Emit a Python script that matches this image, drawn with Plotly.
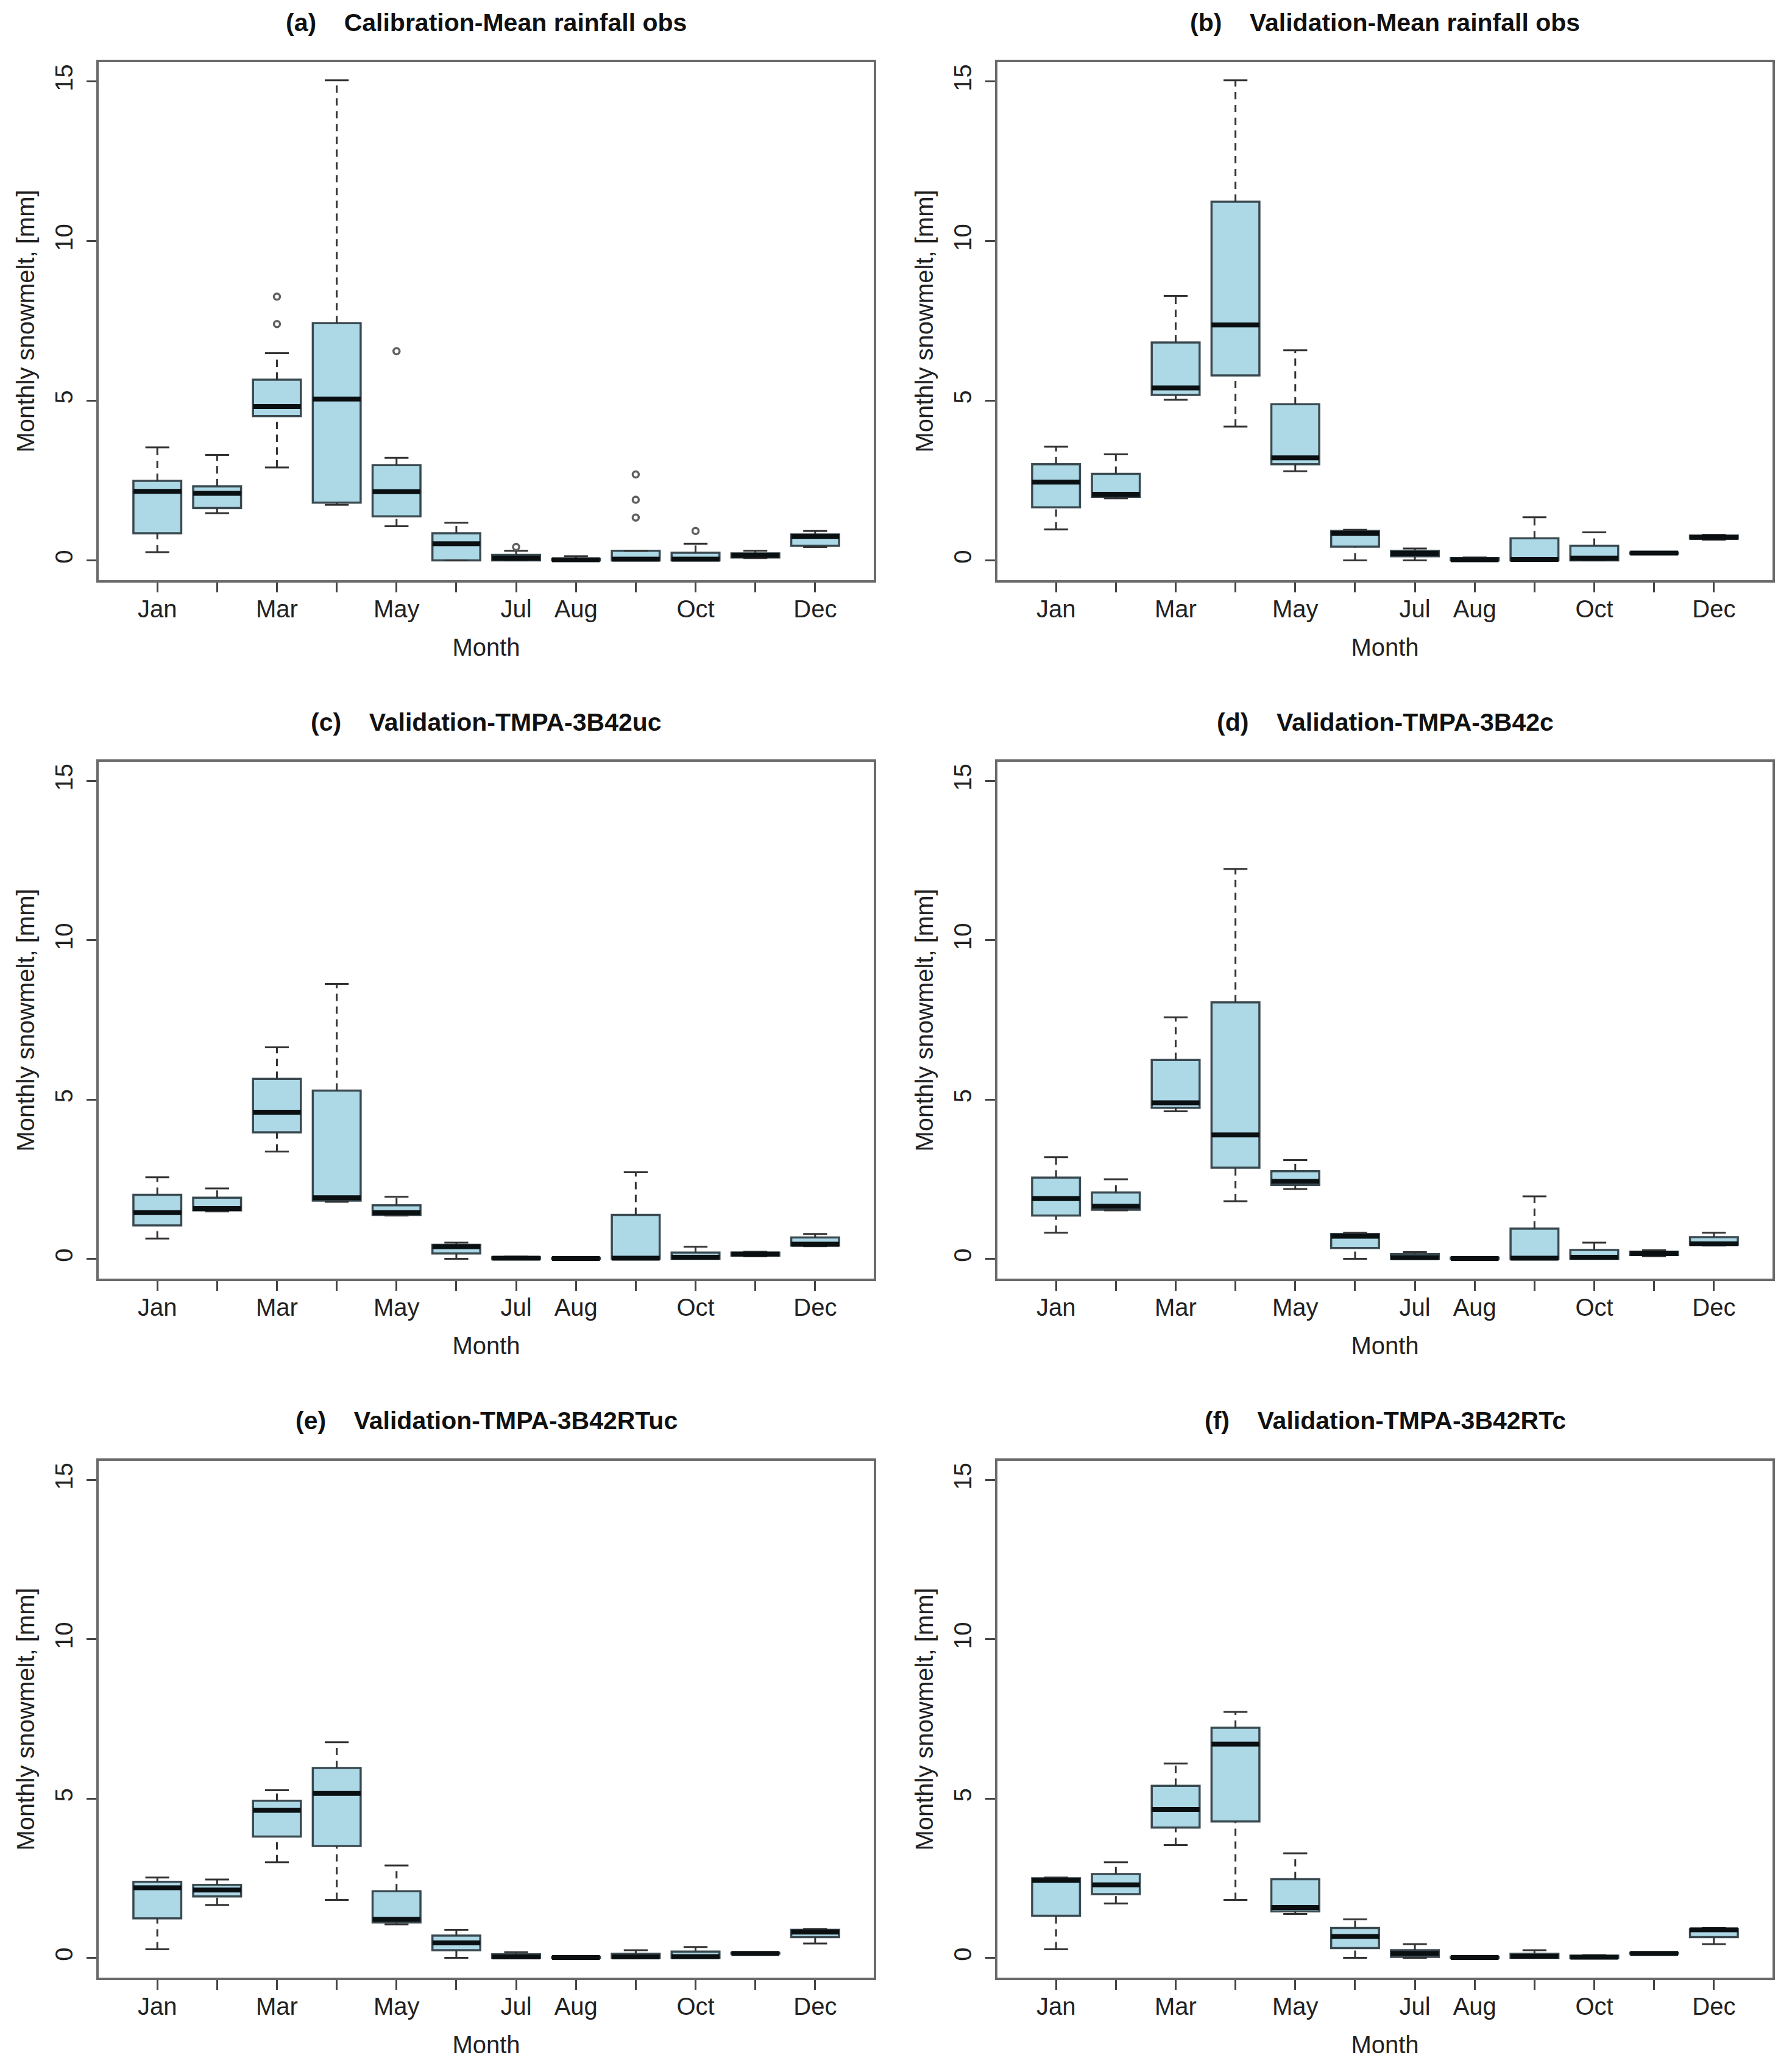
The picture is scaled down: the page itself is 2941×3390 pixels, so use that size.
import plotly.graph_objects as go

# month positions and labels (R hides labels that would overlap)
months = list(range(1, 13))
month_labels = ["Jan", "", "Mar", "", "May", "", "Jul", "Aug", "", "Oct", "", "Dec"]

titles = [
    "(a)    Calibration-Mean rainfall obs",
    "(b)    Validation-Mean rainfall obs",
    "(c)    Validation-TMPA-3B42uc",
    "(d)    Validation-TMPA-3B42c",
    "(e)    Validation-TMPA-3B42RTuc",
    "(f)    Validation-TMPA-3B42RTc",
]

# box statistics, one value per month
a_low = [0.26, 1.48, 2.91, 1.74, 1.07, 0.00, 0.00, 0.00, 0.00, 0.00, 0.07, 0.42]
a_q1  = [0.85, 1.64, 4.52, 1.81, 1.38, 0.00, 0.00, 0.00, 0.00, 0.00, 0.09, 0.46]
a_med = [2.16, 2.10, 4.82, 5.05, 2.15, 0.52, 0.07, 0.02, 0.04, 0.04, 0.16, 0.75]
a_q3  = [2.49, 2.32, 5.66, 7.43, 2.98, 0.85, 0.17, 0.05, 0.30, 0.24, 0.22, 0.81]
a_up  = [3.54, 3.30, 6.49, 15.03, 3.21, 1.18, 0.30, 0.13, 0.30, 0.52, 0.30, 0.92]
a_out_x = [3, 3, 5, 7, 9, 9, 9, 10]
a_out_y = [8.26, 7.40, 6.55, 0.42, 2.69, 1.90, 1.34, 0.92]

b_low = [0.97, 1.94, 5.03, 4.19, 2.79, 0.00, 0.00, 0.00, 0.00, 0.00, 0.20, 0.65]
b_q1  = [1.66, 1.99, 5.18, 5.79, 3.01, 0.43, 0.13, 0.00, 0.00, 0.00, 0.21, 0.68]
b_med = [2.45, 2.07, 5.40, 7.37, 3.21, 0.85, 0.22, 0.02, 0.03, 0.07, 0.23, 0.72]
b_q3  = [3.01, 2.71, 6.82, 11.23, 4.89, 0.92, 0.30, 0.07, 0.69, 0.46, 0.25, 0.78]
b_up  = [3.56, 3.32, 8.28, 15.03, 6.58, 0.96, 0.37, 0.09, 1.35, 0.88, 0.26, 0.80]

c_low = [0.64, 1.49, 3.37, 1.79, 1.36, 0.00, 0.00, 0.00, 0.00, 0.00, 0.08, 0.40]
c_q1  = [1.05, 1.52, 3.97, 1.83, 1.38, 0.17, 0.00, 0.00, 0.00, 0.00, 0.10, 0.42]
c_med = [1.45, 1.58, 4.60, 1.92, 1.45, 0.38, 0.02, 0.01, 0.02, 0.05, 0.15, 0.46]
c_q3  = [2.01, 1.92, 5.65, 5.28, 1.68, 0.44, 0.05, 0.03, 1.38, 0.20, 0.20, 0.67]
c_up  = [2.56, 2.21, 6.64, 8.63, 1.95, 0.51, 0.07, 0.04, 2.72, 0.38, 0.22, 0.78]

d_low = [0.82, 1.52, 4.63, 1.81, 2.19, 0.00, 0.00, 0.00, 0.00, 0.00, 0.08, 0.42]
d_q1  = [1.36, 1.54, 4.74, 2.86, 2.32, 0.34, 0.00, 0.00, 0.00, 0.00, 0.12, 0.44]
d_med = [1.89, 1.65, 4.90, 3.89, 2.43, 0.71, 0.04, 0.01, 0.02, 0.05, 0.17, 0.47]
d_q3  = [2.55, 2.08, 6.24, 8.05, 2.75, 0.78, 0.15, 0.04, 0.95, 0.28, 0.22, 0.68]
d_up  = [3.19, 2.50, 7.58, 12.24, 3.10, 0.82, 0.21, 0.06, 1.96, 0.51, 0.27, 0.82]

e_low = [0.27, 1.66, 3.00, 1.82, 1.05, 0.00, 0.00, 0.00, 0.00, 0.00, 0.12, 0.45]
e_q1  = [1.24, 1.93, 3.81, 3.51, 1.11, 0.24, 0.00, 0.00, 0.00, 0.00, 0.13, 0.65]
e_med = [2.20, 2.13, 4.63, 5.16, 1.21, 0.47, 0.03, 0.01, 0.03, 0.04, 0.14, 0.81]
e_q3  = [2.39, 2.29, 4.93, 5.96, 2.09, 0.70, 0.11, 0.03, 0.13, 0.20, 0.16, 0.88]
e_up  = [2.52, 2.46, 5.26, 6.77, 2.90, 0.88, 0.18, 0.05, 0.24, 0.34, 0.17, 0.90]

f_low = [0.27, 1.71, 3.54, 1.82, 1.38, 0.00, 0.00, 0.00, 0.00, 0.00, 0.12, 0.43]
f_q1  = [1.32, 2.00, 4.09, 4.28, 1.46, 0.31, 0.03, 0.00, 0.00, 0.00, 0.13, 0.65]
f_med = [2.43, 2.29, 4.66, 6.71, 1.58, 0.67, 0.14, 0.01, 0.05, 0.02, 0.14, 0.88]
f_q3  = [2.50, 2.63, 5.40, 7.22, 2.47, 0.94, 0.24, 0.03, 0.13, 0.07, 0.16, 0.90]
f_up  = [2.52, 3.00, 6.10, 7.72, 3.28, 1.21, 0.43, 0.05, 0.24, 0.09, 0.17, 0.94]

panels = [
    (a_low, a_q1, a_med, a_q3, a_up, a_out_x, a_out_y),
    (b_low, b_q1, b_med, b_q3, b_up, [], []),
    (c_low, c_q1, c_med, c_q3, c_up, [], []),
    (d_low, d_q1, d_med, d_q3, d_up, [], []),
    (e_low, e_q1, e_med, e_q3, e_up, [], []),
    (f_low, f_q1, f_med, f_q3, f_up, [], []),
]

# page is offset by the 8px default body margin
PAD = 8
W, H = 2941 - 2 * PAD, 3390 - 2 * PAD
# plot box edges in page pixels (left, right) and (top, bottom)
cols_px = [(162, 1434), (1637, 2909)]
rows_px = [(102, 952), (1250, 2098), (2397, 3245)]
title_px = [37, 1185, 2331]

FONT = "Liberation Sans, Arial, Helvetica, sans-serif"
BOX_W = 0.8
CAP_W = 0.4


def segs(xs, y0, y1, half):
    # horizontal (half > 0) or vertical segments with None breaks
    sx, sy = [], []
    for x, a, b in zip(xs, y0, y1):
        if half:
            sx += [x - half, x + half, None]
        else:
            sx += [x, x, None]
        sy += [a, b, None]
    return sx, sy


fig = go.Figure()

for i, (low, q1, med, q3, up, ox, oy) in enumerate(panels):
    r, c = divmod(i, 2)
    xa = "x" if i == 0 else f"x{i + 1}"
    ya = "y" if i == 0 else f"y{i + 1}"

    # dashed whiskers
    wx1, wy1 = segs(months, q3, up, 0)
    wx2, wy2 = segs(months, low, q1, 0)
    fig.add_trace(go.Scatter(x=wx1 + wx2, y=wy1 + wy2, mode="lines", xaxis=xa, yaxis=ya,
                             line=dict(color="#333333", width=3, dash="12px,9px"),
                             hoverinfo="skip", showlegend=False))
    # whisker caps
    cx1, cy1 = segs(months, up, up, CAP_W / 2)
    cx2, cy2 = segs(months, low, low, CAP_W / 2)
    fig.add_trace(go.Scatter(x=cx1 + cx2, y=cy1 + cy2, mode="lines", xaxis=xa, yaxis=ya,
                             line=dict(color="#333333", width=3),
                             hoverinfo="skip", showlegend=False))
    # boxes
    fig.add_trace(go.Box(x=months, q1=q1, median=med, q3=q3, lowerfence=q1, upperfence=q3,
                         width=BOX_W, fillcolor="#ADD8E6", xaxis=xa, yaxis=ya,
                         line=dict(color="#3a4a50", width=3.5), showlegend=False))
    # thick medians
    mx, my = segs(months, med, med, BOX_W / 2)
    fig.add_trace(go.Scatter(x=mx, y=my, mode="lines", xaxis=xa, yaxis=ya,
                             line=dict(color="#0a0f12", width=8),
                             hoverinfo="skip", showlegend=False))
    # outliers
    if ox:
        fig.add_trace(go.Scatter(x=ox, y=oy, mode="markers", xaxis=xa, yaxis=ya,
                                 marker=dict(symbol="circle-open", size=10, color="#606060",
                                             line=dict(width=3.5)),
                                 hoverinfo="skip", showlegend=False))

    x0, x1 = [(v - PAD) / W for v in cols_px[c]]
    y0, y1 = [(v - PAD) / H for v in rows_px[r]]
    axis_common = dict(showline=True, mirror=True, linecolor="#6a6a6a", linewidth=4,
                       showgrid=False, zeroline=False, ticks="outside", ticklen=16,
                       tickwidth=3, tickcolor="#444444",
                       tickfont=dict(family=FONT, size=40, color="#222222"))
    fig.layout[xa.replace("x", "xaxis")] = dict(
        axis_common, anchor=ya, domain=[x0, x1], range=[0.02, 12.98],
        tickmode="array", tickvals=months, ticktext=month_labels, ticklabelstandoff=-7,
        title=dict(text="Month", font=dict(family=FONT, size=40, color="#222222"), standoff=29))
    fig.layout[ya.replace("y", "yaxis")] = dict(
        axis_common, anchor=xa, domain=[1 - y1, 1 - y0], range=[-0.62, 15.6],
        tickmode="array", tickvals=[0, 5, 10, 15], tickangle=-90, ticklabelstandoff=7,
        title=dict(text="Monthly snowmelt, [mm]", font=dict(family=FONT, size=40, color="#222222"),
                   standoff=15))

    fig.add_annotation(text=f"<b>{titles[i]}</b>", xref="paper", yref="paper",
                       x=(x0 + x1) / 2, y=1 - (title_px[r] - PAD) / H, showarrow=False,
                       xanchor="center", yanchor="middle",
                       font=dict(family=FONT, size=41, color="#111111"))

fig.update_layout(width=W, height=H, margin=dict(l=0, r=0, t=0, b=0),
                  paper_bgcolor="white", plot_bgcolor="white", showlegend=False)

fig.write_html("out.html")
